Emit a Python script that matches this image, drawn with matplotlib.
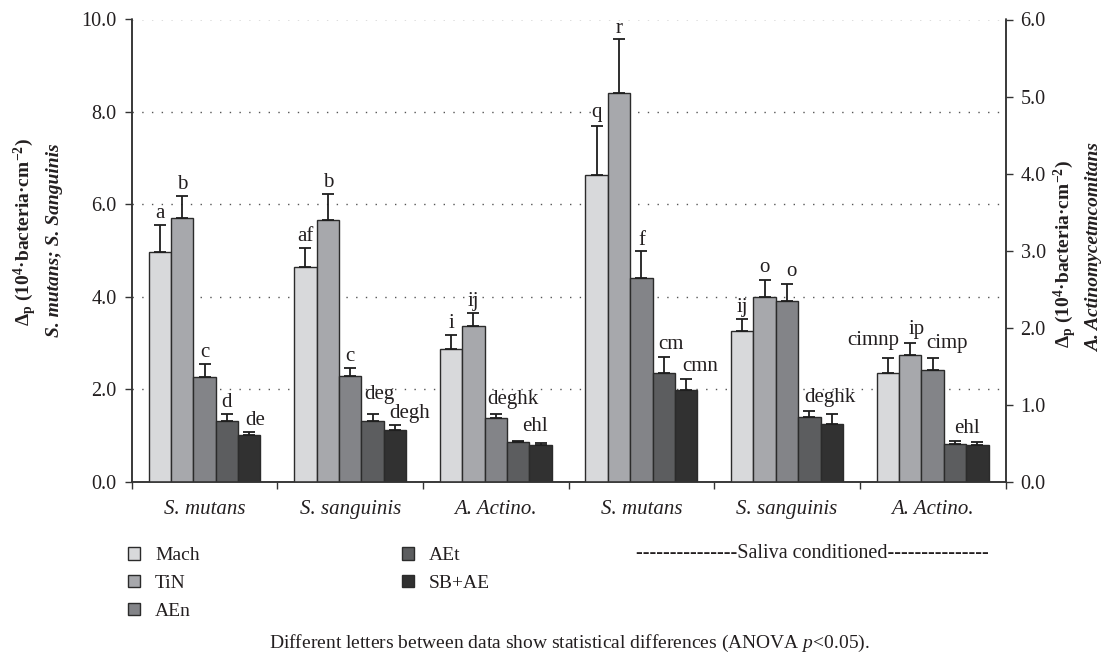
import matplotlib
matplotlib.use("Agg")
import matplotlib.pyplot as plt
import numpy as np
from matplotlib.patches import Patch

plt.rcParams['font.family'] = ['Liberation Serif', 'DejaVu Serif']
plt.rcParams['mathtext.fontset'] = 'custom'
plt.rcParams['mathtext.rm'] = 'Liberation Serif'
plt.rcParams['mathtext.it'] = 'Liberation Serif:italic'
plt.rcParams['mathtext.bf'] = 'Liberation Serif:bold'

# ---------------- data (left-axis units) ----------------
categories = ['S. mutans', 'S. sanguinis', 'A. Actino.', 'S. mutans', 'S. sanguinis', 'A. Actino.']
series_names = ['Mach', 'TiN', 'AEn', 'AEt', 'SB+AE']

mach = [4.97, 4.64, 2.87, 6.64, 3.25, 2.36]
mach_err = [0.58, 0.41, 0.30, 1.06, 0.28, 0.31]
tin = [5.70, 5.66, 3.36, 8.41, 3.99, 2.74]
tin_err = [0.48, 0.56, 0.30, 1.16, 0.38, 0.27]
aen = [2.26, 2.29, 1.37, 4.41, 3.92, 2.41]
aen_err = [0.28, 0.17, 0.09, 0.58, 0.36, 0.26]
aet = [1.31, 1.31, 0.85, 2.36, 1.41, 0.82]
aet_err = [0.16, 0.16, 0.03, 0.34, 0.13, 0.06]
sbae = [1.02, 1.12, 0.79, 1.99, 1.25, 0.80]
sbae_err = [0.05, 0.10, 0.04, 0.23, 0.21, 0.06]

mach_letters = ['a', 'af', 'i', 'q', 'ij', 'cimnp']
tin_letters = ['b', 'b', 'ij', 'r', 'o', 'ip']
aen_letters = ['c', 'c', 'deghk', 'f', 'o', 'cimp']
aet_letters = ['d', 'deg', '', 'cm', 'deghk', 'ehl']
sbae_letters = ['de', 'degh', 'ehl', 'cmn', '', '']

right_ticks = [0, 1, 2, 3, 4, 5, 6]
left_ticks = [0, 2, 4, 6, 8, 10]

# ---------------- styles / layout ----------------
colors = ['#d8d9db', '#a7a8ac', '#838488', '#5c5d5f', '#313131']
TXT = '#231f20'
PX = 0.72  # px -> pt at 100 dpi
# letter offsets in pixels (dx, dy above cap) -- layout only
offs = [
    [(0, 7), (0, 7), (0, 7), (0, 9), (0, 7), (-15, 13)],
    [(0, 7), (0, 7), (0, 7), (0, 6), (0, 8), (6, 9)],
    [(0, 7), (0, 7), (17, 10), (0, 6), (4, 8), (14, 10)],
    [(0, 7), (7, 15), (0, 0), (7, 8), (20, 9), (12, 8)],
    [(6, 7), (15, 7), (-6, 12), (14, 8), (0, 0), (0, 0)],
]

values = [mach, tin, aen, aet, sbae]
errs = [mach_err, tin_err, aen_err, aet_err, sbae_err]
letters = [mach_letters, tin_letters, aen_letters, aet_letters, sbae_letters]

fig = plt.figure(figsize=(11.1, 6.58), dpi=100)
W, H = 1110, 658
left_px, right_px, bot_px, top_px = 131.7, 1005.5, 481.7, 19.5
ax = fig.add_axes([left_px / W, 1 - bot_px / H, (right_px - left_px) / W, (bot_px - top_px) / H])

x = np.arange(len(categories))
bw = 0.1537
for i, (vals, er, col) in enumerate(zip(values, errs, colors)):
    pos = x + (i - 2) * bw
    ax.bar(pos, vals, width=bw, color=col, edgecolor='#2b2b2b', linewidth=1.0,
           zorder=3, label=series_names[i])
    ax.errorbar(pos, vals, yerr=[np.zeros(len(vals)), er], fmt='none', ecolor='#1e1e1e',
                elinewidth=1.3, capsize=4.3, capthick=1.3, zorder=4)
    for j, lab in enumerate(letters[i]):
        if lab:
            dx, dy = offs[i][j]
            ax.annotate(lab, xy=(pos[j], vals[j] + er[j]), xytext=(dx * PX, dy * PX),
                        textcoords='offset points', ha='center', va='baseline',
                        fontsize=15, color=TXT, zorder=5)

ax.set_xlim(-0.5, 5.5)
ax.set_ylim(0, 10)
ax.set_yticks(left_ticks)
ax.set_yticklabels([f'{t:.1f}' for t in left_ticks])
ax.yaxis.grid(True, linestyle=(0, (1, 6)), color='#555555', linewidth=1.0, zorder=0)
ax.set_axisbelow(True)

ax.set_xticks(np.arange(-0.5, 6.0, 1.0))
ax.set_xticklabels([])
ax.set_xticks(x, minor=True)
ax.set_xticklabels(categories, minor=True, fontstyle='italic', fontsize=15, color=TXT)
ax.tick_params(axis='x', which='minor', length=0, pad=13)
ax.tick_params(axis='x', which='major', length=4.8, width=1.0, direction='out', color='#333333')
ax.tick_params(axis='y', length=4.8, width=1.0, direction='out', labelsize=14.5,
               labelcolor=TXT, color='#333333', pad=6)

for s in ['left', 'bottom', 'right']:
    ax.spines[s].set_color('#333333')
    ax.spines[s].set_linewidth(1.1)
ax.spines['top'].set_visible(False)

ax2 = ax.twinx()
ax2.set_ylim(0, 6)
ax2.set_yticks(right_ticks)
ax2.set_yticklabels([f'{t:.1f}' for t in right_ticks])
ax2.tick_params(axis='y', length=4.8, width=1.0, direction='out', labelsize=14.5,
                labelcolor=TXT, color='#333333', pad=6)
for s in ['left', 'bottom', 'right']:
    ax2.spines[s].set_color('#333333')
    ax2.spines[s].set_linewidth(1.1)
ax2.spines['top'].set_visible(False)

# axis titles
lab1 = 'Δ$_{\\mathbf{p}}$ (10$^{\\mathbf{4}}$·bacteria·cm$^{\\mathbf{-2}}$)'
fig.text(25 / W, 1 - 232 / H, lab1, rotation=90, ha='center', va='center',
         fontsize=14, fontweight='bold', color=TXT)
fig.text(55 / W, 1 - 240 / H, 'S. mutans; S. Sanguinis', rotation=90, ha='center', va='center',
         fontsize=14, fontweight='bold', fontstyle='italic', color=TXT)
fig.text(1065 / W, 1 - 254 / H, lab1, rotation=90, ha='center', va='center',
         fontsize=14, fontweight='bold', color=TXT)
fig.text(1095 / W, 1 - 247 / H, 'A. Actinomycetmcomitans', rotation=90, ha='center', va='center',
         fontsize=14, fontweight='bold', fontstyle='italic', color=TXT)

# legend
handles = [Patch(facecolor=c, edgecolor='#2b2b2b', linewidth=1.0) for c in colors]
leg = fig.legend(handles, series_names, ncol=2, loc='upper left',
                 bbox_to_anchor=(128 / W, 1 - 547 / H), frameon=False,
                 fontsize=14, handlelength=0.62, handleheight=0.62, handletextpad=0.77,
                 labelspacing=0.55, columnspacing=10.4, borderpad=0, borderaxespad=0)
for t in leg.get_texts():
    t.set_color(TXT)

fig.text(812.5 / W, 1 - 554 / H, '-' * 15 + 'Saliva conditioned' + '-' * 15,
         ha='center', va='center', fontsize=14.5, color=TXT)

fig.text(569 / W, 1 - 643 / H,
         'Different letters between data show statistical differences (ANOVA $p$<0.05).',
         ha='center', va='center', fontsize=14, color=TXT)

fig.savefig('out.png', dpi=100)
